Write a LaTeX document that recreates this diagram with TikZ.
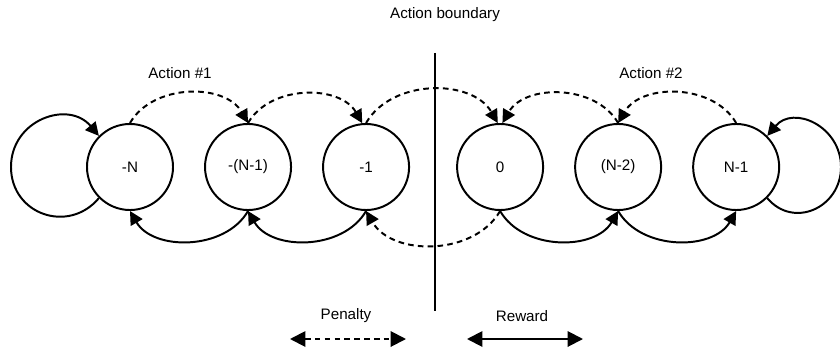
\documentclass[tikz,border=0pt]{standalone}
\usepackage{fontspec}
\setmainfont{Liberation Sans}
\usetikzlibrary{arrows,arrows.meta,automata,calc,positioning}
\tikzset{%
        ->,
        >={Triangle[length=9.5pt,width=9.5pt]},
        node distance=2.95cm,
        penalty/.style={dash pattern=on 4pt off 3pt},
        legend/.style={>={Triangle[length=11pt,width=11pt]}}
}
\tikzstyle{every state}=[
    draw = black,
    fill = white,
    line width = 1.4pt,
    minimum size = 2.15cm
]
\tikzstyle{every edge}=[
    draw = black,
    line width=1.4pt,
]

\begin{document}
\begin{tikzpicture}[x=0.025cm, y=0.025cm, line width=1.4pt,
                    font=\fontsize{10.8}{13}\selectfont]
        \useasboundingbox (0,0) rectangle (840,350);
        \node[state] (1) at (130,183) {-N};
        \node[state] (2) [right of=1] {-(N-1)};
        \node[state] (3) [right of=2] {-1};
        \node[state] (4) [right of=3, node distance=3.35cm] {0};
        \node[state] (5) [right of=4] {(N-2)};
        \node[state] (6) [right of=5] {N-1};
        \coordinate (top) at (435,297);
        \coordinate (bottom) at (435,39);
        \coordinate (l) at (11,183);
        \coordinate (r) at (841,183);
      % action boundary
      \draw[-] (top) -- (bottom);
      \path
      (1.north) edge[penalty, out=60, in=120] (2.north)
      (2.north) edge[penalty, out=60, in=120] (3.95)
      (3.north) edge[penalty, out=60, in=120] (4.93)
      (5.north) edge[penalty, out=120, in=60] (4.87)
      (6.north) edge[penalty, out=120, in=60] (5.north)
      (2.south) edge[out=-120, in=-60] (1.south)
      (3.south) edge[out=-120, in=-60] (2.south)
      (4.south) edge[penalty, out=-120, in=-60] (3.south)
      (4.south) edge[out=-60, in=-120] (5.south)
      (5.south) edge[out=-60, in=-120] (6.south)
      ;
      % self loops
      \draw (1.225) to[out=230, in=-90, looseness=1.3] (l)
                    to[out=90, in=130, looseness=1.3] (1.135);
      \draw (6.-45) to[out=-50, in=-90, looseness=1.3] (r)
                    to[out=90, in=50, looseness=1.3] (6.45);
      % labels
      \node (boundary) at (445,335) {Action boundary};
      \node (act1) at (180,277) {Action \#1};
      \node (act2) at (651,277) {Action \#2};
      \node (pen) at (346,34) {Penalty};
      \node (rew) at (522,34) {Reward};
      \coordinate (pl) at (290,11);
      \coordinate (pr) at (406,11);
      \coordinate (rl) at (467,11);
      \coordinate (rr) at (583,11);
      \draw[legend, <->, penalty] (pl) -- (pr);
      \draw[legend, <->] (rl) -- (rr);
    \end{tikzpicture}
\end{document}
